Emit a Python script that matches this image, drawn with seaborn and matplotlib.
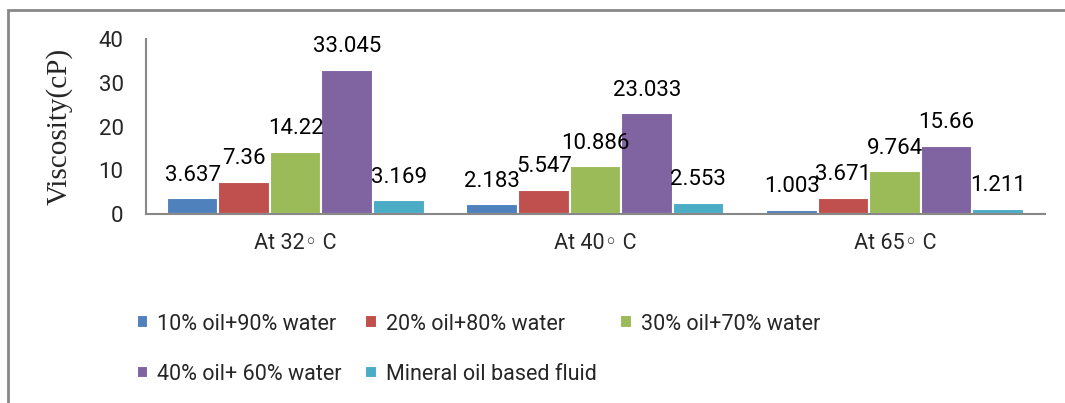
import pandas as pd
import matplotlib.pyplot as plt
import seaborn as sns
from matplotlib.patches import Rectangle

# Chart data
temperatures = ['At 32◦ C', 'At 40◦ C', 'At 65◦ C']
fluids = ['10% oil+90% water', '20% oil+80% water', '30% oil+70% water',
          '40% oil+ 60% water', 'Mineral oil based fluid']
oil10 = [3.637, 2.183, 1.003]
oil20 = [7.36, 5.547, 3.671]
oil30 = [14.22, 10.886, 9.764]
oil40 = [33.045, 23.033, 15.66]
mineral = [3.169, 2.553, 1.211]
colors = ['#4F81BD', '#C0504D', '#9BBB59', '#8064A2', '#4BACC6']

rows = []
for name, vals in zip(fluids, [oil10, oil20, oil30, oil40, mineral]):
    for t, v in zip(temperatures, vals):
        rows.append({'temp': t, 'fluid': name, 'viscosity': v})
df = pd.DataFrame(rows)

sns.set_style('white')
plt.rcParams['font.family'] = ['Roboto', 'DejaVu Sans']

fig = plt.figure(figsize=(10.65, 4.03), dpi=100)
ax = fig.add_axes([0.137, 0.469, 0.844, 0.434])

sns.barplot(data=df, x='temp', y='viscosity', hue='fluid', order=temperatures,
            hue_order=fluids, palette=colors, saturation=1, width=0.86, gap=0,
            edgecolor='white', linewidth=1.5, errorbar=None, ax=ax)

for cont in ax.containers:
    ax.bar_label(cont, labels=[f'{v:g}' for v in cont.datavalues],
                 padding=9, fontsize=16, color='black')

ax.set_ylim(0, 40)
ax.set_yticks([0, 10, 20, 30, 40])
ax.set_xlim(-0.5, 2.5)
ax.tick_params(axis='y', labelsize=16, pad=16, length=0)
ax.tick_params(axis='x', labelsize=15.5, pad=14, length=0)
ax.set_xlabel('')
ax.set_ylabel('Viscosity(cP)', family='Liberation Serif', fontsize=21, labelpad=19)
for s in ['top', 'right']:
    ax.spines[s].set_visible(False)
for s in ['left', 'bottom']:
    ax.spines[s].set_color('#888888')
    ax.spines[s].set_linewidth(1.5)

# legend is filled row by row in the reference
handles, labels = ax.get_legend_handles_labels()
ax.legend_.remove()
order = [0, 3, 1, 4, 2]
fig.legend([handles[i] for i in order], [labels[i] for i in order],
           loc='upper left', bbox_to_anchor=(0.11, 0.27),
           ncol=3, frameon=False, fontsize=15.5, handlelength=0.55,
           handleheight=0.55, handletextpad=0.4, columnspacing=1.1,
           labelspacing=1.35)

# outer chart frame
fig.patches.append(Rectangle((0.0075, -0.1), 1.2, 1.075, transform=fig.transFigure,
                             fill=False, edgecolor='#888888', linewidth=2))

plt.savefig('out.png', dpi=100)
